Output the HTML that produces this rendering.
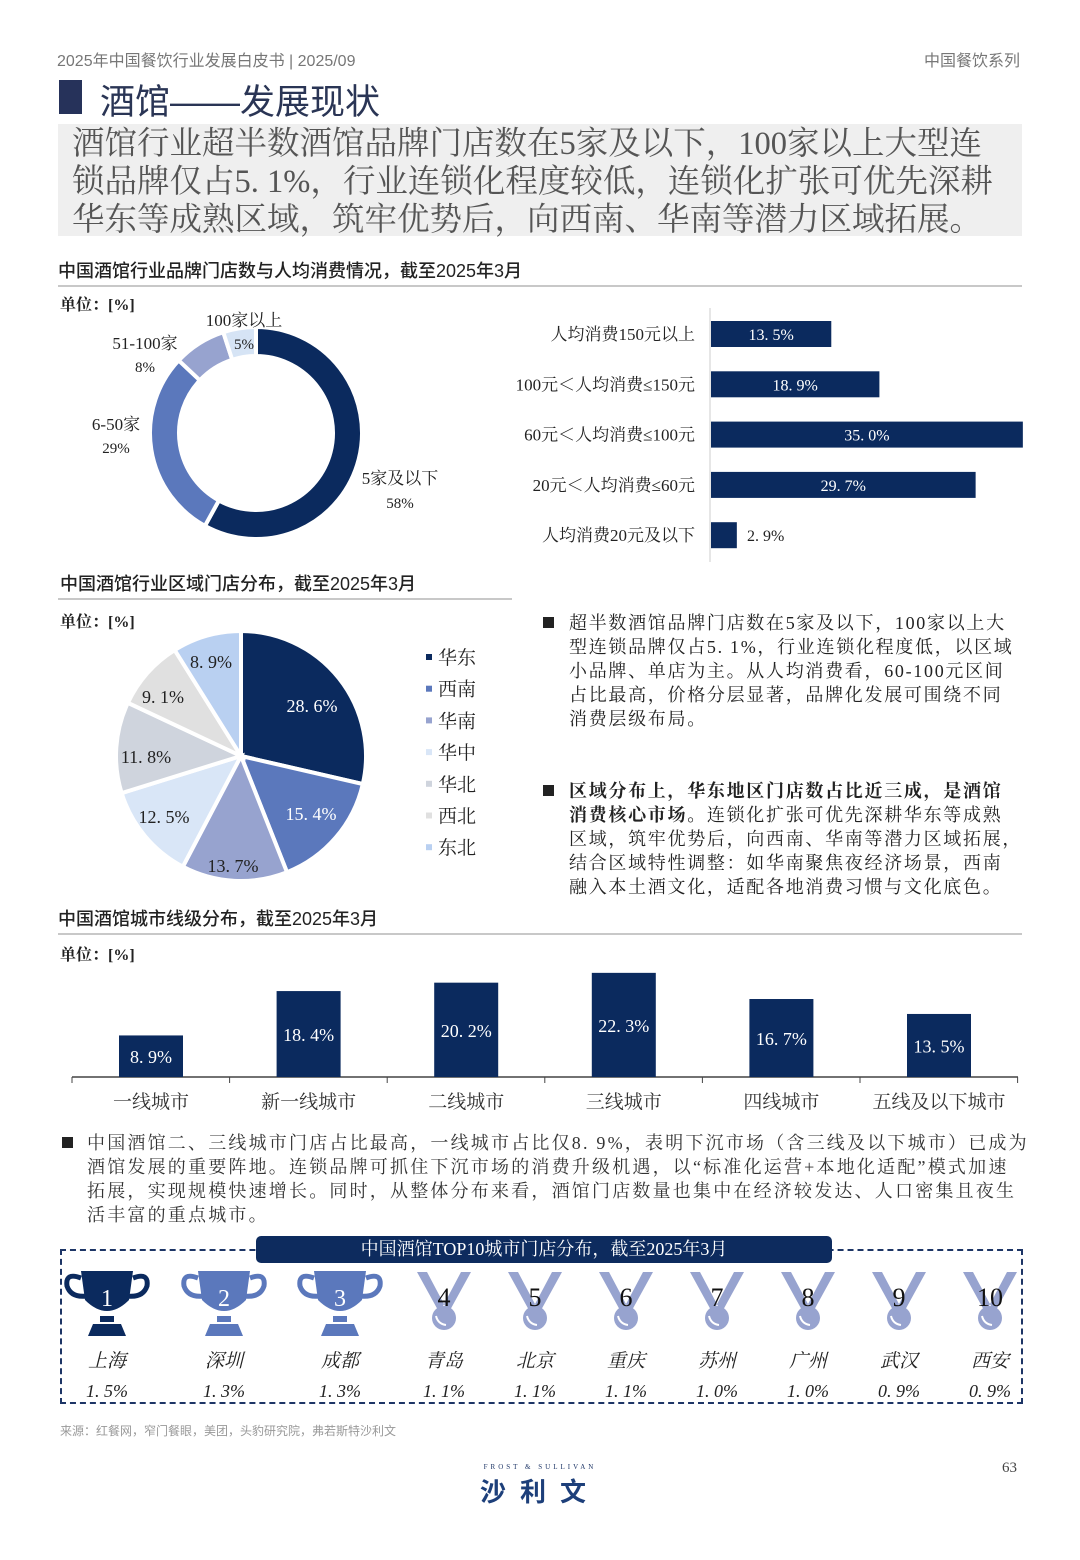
<!DOCTYPE html>
<html><head><meta charset="utf-8">
<style>
*{margin:0;padding:0;box-sizing:border-box}
body{width:1080px;height:1560px;background:#fff;position:relative;overflow:hidden;font-family:"Liberation Serif","Noto Serif CJK SC",serif;color:#222}
.a{position:absolute;white-space:nowrap}
.sans{font-family:"Liberation Sans","Noto Sans CJK SC",sans-serif}
.sec{font-family:"Liberation Sans","Noto Sans CJK SC",sans-serif;font-size:18px;color:#222;font-weight:500}
.hl{position:absolute;height:2px;background:#c8c8c8}
.unit{font-size:16px;font-weight:bold;font-family:"Liberation Serif","Noto Serif CJK SC",serif}
.p{font-size:18px;line-height:24px;color:#222;letter-spacing:2.2px}
</style></head><body>
<div class="a sans" style="left:57px;top:47px;font-size:16px;color:#777">2025年中国餐饮行业发展白皮书 | 2025/09</div>
<div class="a sans" style="right:60px;top:47px;font-size:16px;color:#777">中国餐饮系列</div>
<div class="a" style="left:59px;top:80px;width:23px;height:34px;background:#26325a"></div>
<div class="a sans" style="left:100px;top:74px;font-size:35px;color:#2a3555">酒馆——发展现状</div>
<div class="a" style="left:58px;top:124px;width:964px;height:112px;background:#efefef"></div>
<div class="a" style="left:72px;top:125px;font-size:32.5px;line-height:38px;color:#555;letter-spacing:0px">酒馆行业超半数酒馆品牌门店数在5家及以下，100家以上大型连<br>锁品牌仅占5. 1%，行业连锁化程度较低，连锁化扩张可优先深耕<br>华东等成熟区域，筑牢优势后，向西南、华南等潜力区域拓展。</div>

<div class="a sec" style="left:58px;top:257px">中国酒馆行业品牌门店数与人均消费情况，截至2025年3月</div>
<div class="hl" style="left:58px;top:285px;width:964px"></div>
<div class="a unit" style="left:60px;top:292px">单位：[%]</div>

<svg class="a" style="left:0;top:0" width="1080" height="1560" id="sv">
</svg>

<div class="a sec" style="left:60px;top:570px">中国酒馆行业区域门店分布，截至2025年3月</div>
<div class="hl" style="left:58px;top:598px;width:454px"></div>
<div class="a unit" style="left:60px;top:609px">单位：[%]</div>

<div class="a" style="left:543px;top:617px;width:11px;height:11px;background:#222"></div>
<div class="a p" style="left:569px;top:611px;letter-spacing:1.7px">超半数酒馆品牌门店数在5家及以下，100家以上大<br>型连锁品牌仅占5. 1%，行业连锁化程度低，以区域<br>小品牌、单店为主。从人均消费看，60-100元区间<br>占比最高，价格分层显著，品牌化发展可围绕不同<br>消费层级布局。</div>
<div class="a" style="left:543px;top:785px;width:11px;height:11px;background:#222"></div>
<div class="a p" style="left:569px;top:779px;letter-spacing:1.7px"><b>区域分布上，华东地区门店数占比近三成，是酒馆</b><br><b>消费核心市场。</b>连锁化扩张可优先深耕华东等成熟<br>区域，筑牢优势后，向西南、华南等潜力区域拓展，<br>结合区域特性调整：如华南聚焦夜经济场景，西南<br>融入本土酒文化，适配各地消费习惯与文化底色。</div>

<div class="a sec" style="left:58px;top:905px">中国酒馆城市线级分布，截至2025年3月</div>
<div class="hl" style="left:58px;top:933px;width:964px"></div>
<div class="a unit" style="left:60px;top:942px">单位：[%]</div>

<div class="a" style="left:62px;top:1137px;width:11px;height:11px;background:#222"></div>
<div class="a p" style="left:87px;top:1131px;color:#333">中国酒馆二、三线城市门店占比最高，一线城市占比仅8. 9%，表明下沉市场（含三线及以下城市）已成为<br>酒馆发展的重要阵地。连锁品牌可抓住下沉市场的消费升级机遇，以“标准化运营+本地化适配”模式加速<br>拓展，实现规模快速增长。同时，从整体分布来看，酒馆门店数量也集中在经济较发达、人口密集且夜生<br>活丰富的重点城市。</div>

<div class="a" style="left:60px;top:1249px;width:963px;height:155px;border:2.5px dashed #1d3566"></div>
<div class="a" style="left:256px;top:1236px;width:576px;height:27px;background:#0d2b5e;border-radius:5px;color:#fff;font-size:18px;text-align:center;line-height:27px">中国酒馆TOP10城市门店分布，截至2025年3月</div>

<div class="a sans" style="left:60px;top:1422px;font-size:12px;color:#999">来源：红餐网，窄门餐眼，美团，头豹研究院，弗若斯特沙利文</div>
<div class="a" style="left:440px;top:1463px;width:200px;text-align:center;font-size:7px;letter-spacing:3px;color:#1d3566">FROST &amp; SULLIVAN</div>
<div class="a sans" style="left:440px;top:1472px;width:200px;text-align:center;font-size:26px;font-weight:bold;letter-spacing:14px;color:#1d3f7a">沙利文</div>
<div class="a" style="left:1002px;top:1460px;font-size:15px;color:#444">63</div>

<script>
var s=document.getElementById('sv'),h='';
function t(x,y,str,o){o=o||{};h+='<text x="'+x+'" y="'+y+'" font-size="'+(o.fs||16)+'" fill="'+(o.c||'#222')+'" text-anchor="'+(o.a||'middle')+'" font-family="Liberation Serif,Noto Serif CJK SC,serif"'+(o.i?' font-style="italic"':'')+'>'+str+'</text>';}
function P(cx,cy,r,a0){return [cx+r*Math.sin(a0*Math.PI/180),cy-r*Math.cos(a0*Math.PI/180)];}
function arc(cx,cy,ro,ri,a0,a1,col){var L=(a1-a0)>180?1:0;var p1=P(cx,cy,ro,a0),p2=P(cx,cy,ro,a1);
 if(ri>0){var p3=P(cx,cy,ri,a1),p4=P(cx,cy,ri,a0);
 h+='<path d="M'+p1+'A'+ro+','+ro+' 0 '+L+' 1 '+p2+'L'+p3+'A'+ri+','+ri+' 0 '+L+' 0 '+p4+'Z" fill="'+col+'" stroke="#fff" stroke-width="4"/>';}
 else h+='<path d="M'+cx+','+cy+'L'+p1+'A'+ro+','+ro+' 0 '+L+' 1 '+p2+'Z" fill="'+col+'" stroke="#fff" stroke-width="4"/>';}
var d=[[58,'#0b2a5e'],[29,'#5b78bc'],[8,'#97a3cf'],[5,'#d6e4f5']],a=0;
d.forEach(function(v){var e=a+v[0]*3.6;arc(256,433,106,77,a,e,v[1]);a=e;});
t(244,326,'100家以上',{fs:17});t(244,349,'5%',{fs:15});
t(145,349,'51-100家',{fs:17});t(145,372,'8%',{fs:15});
t(116,430,'6-50家',{fs:17});t(116,453,'29%',{fs:15});
t(400,484,'5家及以下',{fs:17});t(400,508,'58%',{fs:15});
h+='<line x1="710" y1="308" x2="710" y2="562" stroke="#ccc" stroke-width="1"/>';
var hb=[['人均消费150元以上',13.5,'13.5%'],['100元＜人均消费≤150元',18.9,'18.9%'],['60元＜人均消费≤100元',35.0,'35.0%'],['20元＜人均消费≤60元',29.7,'29.7%'],['人均消费20元及以下',2.9,'2.9%']];
hb.forEach(function(b,i){var y=321+i*50.3,w=b[1]*8.91;h+='<rect x="711" y="'+y+'" width="'+w+'" height="26" fill="#0b2a5e"/>';
 t(695,y+19,b[0],{a:'end',fs:17});
 if(i<4)t(711+w/2,y+19,b[2].replace('.','. '),{c:'#fff',fs:16});else t(747,y+19,'2. 9%',{a:'start',fs:16});});
var pd=[[28.6,'#0b2a5e'],[15.4,'#5b78bc'],[13.7,'#97a3cf'],[12.5,'#d9e6f7'],[11.8,'#cfd4dd'],[9.1,'#e0e0e0'],[8.9,'#b9d0f1']];a=0;
pd.forEach(function(v){var e=a+v[0]*3.6;arc(241,756,125,0,a,e,v[1]);a=e;});
var pl=[[312,712,'28. 6%','#fff'],[311,820,'15. 4%','#fff'],[233,872,'13. 7%'],[164,823,'12. 5%'],[146,763,'11. 8%'],[163,703,'9. 1%'],[211,668,'8. 9%']];
pl.forEach(function(p){t(p[0],p[1],p[2],{c:p[3]||'#222',fs:18});});
var lg=[['华东','#0b2a5e'],['西南','#5b78bc'],['华南','#97a3cf'],['华中','#d9e6f7'],['华北','#cfd4dd'],['西北','#e0e0e0'],['东北','#b9d0f1']];
lg.forEach(function(g,i){var y=658+i*31.7;h+='<rect x="426" y="'+(y-4)+'" width="6" height="6" fill="'+g[1]+'"/>';t(438,y+6,g[0],{a:'start',fs:19});});
h+='<line x1="72" y1="1077" x2="1018" y2="1077" stroke="#444" stroke-width="1.5"/>';
var vb=[['一线城市',8.9],['新一线城市',18.4],['二线城市',20.2],['三线城市',22.3],['四线城市',16.7],['五线及以下城市',13.5]];
vb.forEach(function(b,i){var cx=151+i*157.6,hh=b[1]*4.67;h+='<rect x="'+(cx-32)+'" y="'+(1077-hh)+'" width="64" height="'+hh+'" fill="#0b2a5e"/>';
 t(cx,1077-hh/2+7,String(b[1]).replace('.','. ')+'%',{c:'#fff',fs:18});t(cx,1108,b[0],{fs:19,c:'#333'});
 var tx=72+(i+1)*157.6;h+='<line x1="'+tx+'" y1="1077" x2="'+tx+'" y2="1083" stroke="#444"/>';});
h+='<line x1="72" y1="1077" x2="72" y2="1083" stroke="#444"/>';
var tp=[['上海','1. 5%'],['深圳','1. 3%'],['成都','1. 3%'],['青岛','1. 1%'],['北京','1. 1%'],['重庆','1. 1%'],['苏州','1. 0%'],['广州','1. 0%'],['武汉','0. 9%'],['西安','0. 9%']];
var xs=[107,224,340,444,535,626,717,808,899,990];
tp.forEach(function(c,i){var x=xs[i];
 if(i<3){var col=i==0?'#0b2a5e':'#5b78bc';
  h+='<path d="M'+(x-26)+',1271 L'+(x+26)+',1271 L'+(x+22)+',1300 Q'+x+',1322 '+(x-22)+',1300Z" fill="'+col+'"/>';
  h+='<path d="M'+(x-26)+',1278 q-16,-6 -14,8 q4,12 20,10 M'+(x+26)+',1278 q16,-6 14,8 q-4,12 -20,10" fill="none" stroke="'+col+'" stroke-width="5"/>';
  h+='<rect x="'+(x-7)+'" y="1316" width="14" height="6" fill="'+col+'"/><path d="M'+(x-14)+',1324 L'+(x+14)+',1324 L'+(x+19)+',1336 L'+(x-19)+',1336Z" fill="'+col+'"/>';
  t(x,1306,String(i+1),{c:'#fff',fs:24});}
 else{h+='<path d="M'+(x-27)+',1272 l10,0 l18,34 l-6,6Z M'+(x+27)+',1272 l-10,0 l-18,34 l6,6Z" fill="#97a3cf"/><circle cx="'+x+'" cy="1318" r="12" fill="#97a3cf"/><path d="M'+(x-8)+',1316 q2,8 10,9" stroke="#fff" stroke-width="2" fill="none"/>';
  t(x,1306,String(i+1),{fs:26,c:'#111'});}
 t(x,1367,c[0],{fs:19,i:1});t(x,1397,c[1],{fs:18,i:1});});
s.innerHTML=h;
</script>
</body></html>
